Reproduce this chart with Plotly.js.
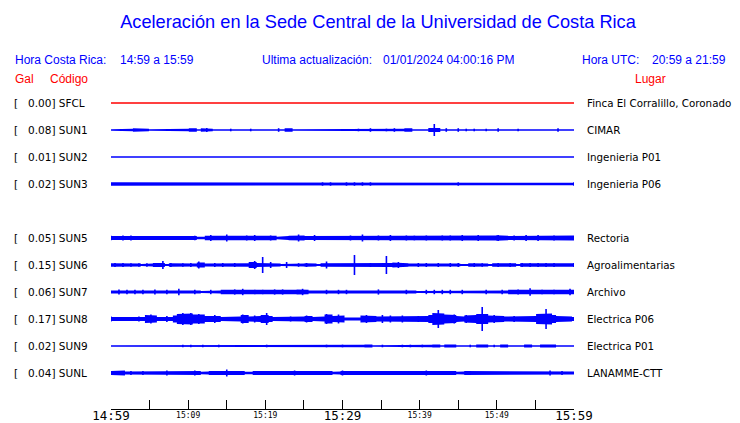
<!DOCTYPE html>
<html><head><meta charset="utf-8">
<script src="https://cdn.plot.ly/plotly-3.0.1.min.js"></script>
<style>html,body{margin:0;padding:0;background:#fff}#chart{width:740px;height:423px}</style>
</head><body><div id="chart"></div>
<script>
// ---------------- DATA ----------------
const titleText = 'Aceleración en la Sede Central de la Universidad de Costa Rica';
const localTimeLabel = 'Hora Costa Rica:';
const localTimeRange = '14:59 a 15:59';
const updateLabel = 'Ultima actualización:';
const updateValue = '01/01/2024 04:00:16 PM';
const utcLabel = 'Hora UTC:';
const utcRange = '20:59 a 21:59';

const codes  = ['SFCL','SUN1','SUN2','SUN3','SUN5','SUN6','SUN7','SUN8','SUN9','SUNL'];
const galPeak = [0.00, 0.08, 0.01, 0.02, 0.05, 0.15, 0.06, 0.17, 0.02, 0.04];
const places = ['Finca El Corralillo, Coronado','CIMAR','Ingenieria P01','Ingenieria P06','Rectoria',
                'Agroalimentarias','Archivo','Electrica P06','Electrica P01','LANAMME-CTT'];

const tickMinutes = [0,5,10,15,20,25,30,35,40,45,50,55,60];
const majorTickMinutes = [0,30,60];
const majorTickText = ['14:59','15:29','15:59'];
const minorTickMinutes = [10,20,40,50];
const minorTickText = ['15:09','15:19','15:39','15:49'];

// envelope half-heights (px), evenly spaced over the hour
const env_SFCL = [0.75,0.75];
const env_SUN1 = [0.7,1.3,1.3,1.0,0.7,1.3,1.8,1.8,1.3,1.3,
 0.7,1.3,1.3,0.7,0.7,0.7,1.3,1.3,1.0,1.3,
 1.8,1.8,0.7,1.8,2.0,1.3,0.7,1.3,1.3,1.0,
 1.3,0.7,1.3,1.3,1.0,1.3,0.7,1.3,1.3,1.0,
 0.7,0.7,1.8,0.7,1.8,1.8,0.7,1.0,1.3,1.3,
 1.0,1.3,1.3,0.7,1.3,1.3,0.7,0.7,1.3,1.3,
 1.3,0.7,1.3,0.7,1.3,1.8,1.3,0.7,0.7,1.3,
 0.7,1.8,0.7,1.3,1.8,1.8,0.7,1.3,1.3,0.7,
 2.0,6.0,2.0,0.7,1.8,0.7,1.3,1.8,0.7,1.3,
 0.7,1.3,0.7,0.7,1.3,0.7,1.3,1.8,0.7,0.7,
 0.7,0.7,1.3,0.7,0.7,1.3,1.3,1.3,1.3,1.3,
 0.7,0.7,1.8,1.3,1.3,0.7,0.7];
const env_SUN2 = [0.75,0.75];
const env_SUN3 = [1.7,1.7,1.7,1.7,1.7,1.2,1.7,1.7,1.7,1.7,
 1.7,1.7,1.7,1.7,1.7,1.7,1.7,1.7,1.7,1.7,
 1.7,1.7,1.7,1.7,1.7,1.7,1.7,1.7,1.7,1.7,
 1.7,1.7,1.7,1.7,1.7,1.7,1.7,1.7,1.7,1.7,
 1.7,1.7,1.7,1.7,1.7,1.7,1.7,1.2,1.7,1.7,
 1.7,1.2,1.2,1.7,1.2,1.7,1.2,1.2,1.2,1.7,
 1.2,1.7,1.2,1.7,1.2,1.7,1.2,1.7,1.7,1.7,
 1.2,1.7,1.7,1.7,1.7,1.2,1.7,1.7,1.7,1.7,
 1.7,1.7,1.7,1.7,1.7,1.7,1.2,1.7,1.2,1.7,
 1.7,1.7,1.2,1.7,1.7,1.7,1.2,1.7,1.7,1.7,
 1.7,1.2,1.7,1.7,1.7,1.7,1.7,1.7,1.7,1.2,
 1.7,1.7,1.2,1.7,1.7,1.2,1.7];
const env_SUN5 = [2.3,2.0,2.0,2.5,2.3,2.5,1.8,2.5,2.5,2.3,
 2.5,2.5,2.3,1.8,2.0,2.5,2.5,2.3,2.5,2.5,
 2.0,2.3,1.3,1.3,2.3,3.0,2.0,2.5,2.5,3.5,
 2.5,2.5,2.3,2.3,2.5,2.0,3.0,2.5,2.0,2.3,
 2.5,2.3,1.3,1.3,2.0,2.3,3.0,3.5,2.5,2.0,
 2.3,3.0,2.5,2.3,2.0,2.3,2.5,2.5,2.3,2.0,
 2.5,2.3,2.5,3.5,2.3,2.0,2.3,2.5,2.0,2.5,
 3.0,2.5,2.0,2.3,2.5,2.0,2.3,2.0,2.3,2.5,
 2.3,2.0,2.3,2.5,2.3,2.5,2.3,2.5,3.0,2.5,
 2.3,2.5,3.0,2.5,2.3,2.0,2.5,3.0,2.8,2.3,
 2.0,2.5,2.3,2.5,3.0,2.3,2.5,3.0,2.3,2.0,
 2.3,2.5,2.3,2.0,2.5,2.5,2.5];
const env_SUN6 = [1.8,2.0,1.5,2.0,1.5,1.8,1.5,1.8,1.0,1.8,
 1.5,2.0,2.0,4.0,1.0,2.0,1.8,1.5,1.8,1.5,
 2.0,1.5,3.5,2.5,1.5,1.5,2.0,1.8,2.0,1.5,
 1.8,2.0,1.5,1.5,1.8,3.0,4.0,2.0,8.0,2.0,
 3.0,2.0,1.5,1.0,3.0,1.0,1.5,1.8,1.5,2.0,
 1.8,1.5,1.0,1.8,3.5,2.0,1.8,2.0,2.0,1.8,
 1.8,10.0,2.0,1.8,1.5,2.0,1.5,1.8,1.8,9.0,
 2.0,2.5,3.0,2.0,1.8,1.5,1.8,2.0,1.8,2.0,
 1.5,1.8,2.0,1.5,1.8,2.0,1.5,2.0,1.0,1.0,
 1.8,2.0,1.5,1.8,1.5,1.0,1.8,2.0,1.8,1.5,
 2.0,1.8,1.0,2.0,1.8,2.0,1.5,2.0,1.8,2.0,
 1.8,2.0,1.8,2.0,2.0,1.8,2.0];
const env_SUN7 = [1.6,2.2,2.6,1.6,2.2,1.6,2.2,1.6,2.2,1.6,
 2.2,2.6,1.6,1.6,2.2,1.6,1.6,3.2,1.6,1.6,
 1.6,2.2,1.6,0.9,1.6,2.2,1.6,1.6,2.2,2.2,
 2.2,2.6,1.6,3.2,1.6,1.6,2.2,1.6,2.2,1.6,
 2.2,2.6,2.2,2.6,1.6,1.6,2.2,2.6,3.2,2.2,
 1.6,1.6,1.6,1.6,2.2,1.6,1.6,2.2,1.6,2.2,
 1.6,1.6,1.6,1.6,1.6,1.6,2.2,2.6,1.6,1.6,
 1.6,2.2,2.2,1.6,2.2,1.6,1.6,0.9,0.9,2.2,
 1.6,2.2,1.6,2.2,1.6,2.2,1.6,1.6,2.2,1.6,
 1.3,1.6,1.6,1.6,2.2,1.6,1.6,1.6,2.2,1.6,
 2.2,2.2,2.6,1.6,1.6,3.8,1.6,1.6,2.2,1.6,
 1.6,2.2,1.6,1.6,2.2,3.2,2.2];
const env_SUN8 = [2.5,2.0,1.8,2.0,2.0,1.8,2.0,2.5,2.0,4.0,
 4.5,3.5,2.0,2.5,3.0,2.0,3.5,5.0,6.0,5.5,
 6.0,4.5,5.0,4.5,3.0,3.0,4.0,3.0,2.0,2.5,
 2.5,2.0,2.5,4.5,4.0,2.5,3.5,3.0,4.0,6.0,
 3.0,2.0,2.0,2.0,2.0,2.5,2.0,2.0,2.5,3.5,
 3.0,2.0,2.0,2.5,5.0,4.5,3.0,4.5,3.5,1.5,
 1.5,1.5,1.5,3.5,4.0,3.5,3.0,2.5,4.0,3.0,
 3.5,3.0,2.5,3.5,3.0,2.5,2.5,3.0,2.5,3.0,
 4.0,6.0,9.0,5.5,4.5,4.0,4.5,3.0,2.5,4.0,
 3.5,4.0,5.0,12.0,5.0,3.5,4.0,3.5,3.0,2.5,
 2.5,3.0,2.5,2.5,2.5,2.5,3.0,5.0,5.5,10.0,
 5.5,4.0,3.0,2.5,2.5,2.5,2.0];
const env_SUN9 = [0.7,0.7,0.7,0.7,0.7,0.7,0.7,0.7,0.7,0.7,
 1.3,1.3,0.7,0.7,0.7,0.7,0.7,0.7,1.3,0.7,
 1.3,0.7,0.7,1.3,0.7,0.7,0.7,1.3,0.7,0.7,
 0.7,0.7,0.7,0.7,0.7,0.7,1.3,1.3,0.7,1.3,
 0.7,0.7,0.7,0.7,0.7,0.7,0.7,0.7,0.7,0.7,
 0.7,0.7,0.7,0.7,1.3,0.7,0.7,0.7,1.3,0.7,
 0.7,0.7,0.7,1.3,1.5,1.5,0.7,0.7,1.3,0.7,
 0.7,0.7,0.7,1.3,0.7,1.3,0.7,0.7,1.3,0.7,
 1.3,1.5,1.5,0.7,1.5,1.5,1.5,0.7,0.7,0.7,
 1.3,0.7,1.5,1.5,1.5,0.7,1.3,0.7,1.5,1.5,
 0.7,0.7,0.7,0.7,1.5,1.5,0.7,0.7,1.5,1.5,
 1.5,1.5,0.7,0.7,0.7,0.7,0.7];
const env_SUNL = [2.0,2.0,2.5,2.5,1.5,2.0,1.5,1.5,2.0,1.5,
 2.0,2.0,2.0,2.0,2.5,1.5,2.0,2.0,1.5,2.0,
 2.0,2.5,2.0,1.2,1.5,2.0,2.0,1.5,2.0,3.5,
 2.0,1.5,2.0,2.0,1.2,1.2,2.0,2.0,2.0,2.0,
 2.0,2.0,1.5,2.0,2.0,1.5,2.5,2.0,2.0,2.0,
 1.5,2.0,2.0,1.5,2.0,2.0,1.2,1.5,2.5,2.0,
 1.5,2.0,2.0,1.5,2.0,1.5,2.0,2.0,1.5,2.0,
 2.0,1.5,2.0,2.0,1.5,2.0,2.0,2.0,1.5,2.5,
 2.0,1.5,2.0,2.0,1.5,2.0,2.0,1.2,1.5,2.0,
 2.0,1.5,2.0,2.0,2.0,1.5,2.0,2.0,1.5,2.0,
 2.0,1.5,2.0,2.0,1.5,2.0,2.0,1.5,2.0,2.0,
 2.5,2.0,1.5,2.0,1.5,1.5,1.5];

// ---------------- DRAWING ----------------
const envelopes = [env_SFCL,env_SUN1,env_SUN2,env_SUN3,env_SUN5,env_SUN6,env_SUN7,env_SUN8,env_SUN9,env_SUNL];
const ROW_SLOTS = [0,1,2,3,5,6,7,8,9,10];   // slot 4 (SUN4) is empty
const W = 740, H = 423;
const M = {l:111, r:166, t:90, b:14};
const PW = W - M.l - M.r, PH = H - M.t - M.b;
const rowY = s => 13 + 27 * s;   // y data units == pixels below plot top

const BLUE = '#0000ff', RED = '#ff0000';
const traces = [];
envelopes.forEach((env, k) => {
  const n = env.length;
  const step = 60 / (n - 1);
  const y0 = rowY(ROW_SLOTS[k]);
  const col = k === 0 ? RED : BLUE;
  // block envelope: each sample is a flat step centred on its time;
  // isolated peaks are held to their neighbours' level and drawn as needles instead
  const bx = [], bu = [], bl = [];
  const nx = [], ny = [];
  env.forEach((a, i) => {
    const nb = Math.max(i > 0 ? env[i - 1] : 0, i < n - 1 ? env[i + 1] : 0);
    const f = n > 2 ? Math.min(a, nb) : a;
    const xc = i * step;
    bx.push(xc - step / 2, xc + step / 2);
    bu.push(y0 - f, y0 - f);
    bl.push(y0 + f, y0 + f);
    if (a > f) { nx.push(xc, xc, null); ny.push(y0 - a, y0 + a, null); }
  });
  traces.push({x: bx, y: bu, type: 'scatter', mode: 'lines',
    line: {width: 0, color: col}, hoverinfo: 'skip', showlegend: false});
  traces.push({x: bx, y: bl, type: 'scatter', mode: 'lines',
    line: {width: 0, color: col}, fill: 'tonexty', fillcolor: col,
    hoverinfo: 'skip', showlegend: false});
  if (nx.length) traces.push({x: nx, y: ny, type: 'scatter', mode: 'lines',
    line: {width: 1.6, color: col}, hoverinfo: 'skip', showlegend: false, connectgaps: false});
});
// carrier for the minor-label axis
traces.push({x: [0, 60], y: [-50, -50], xaxis: 'x2', type: 'scatter', mode: 'lines',
  line: {width: 0}, hoverinfo: 'skip', showlegend: false});

const px2x = px => (px - M.l) / PW;
const py2y = py => (H - M.b - py) / PH;
const SANS = 'Liberation Sans, Arial, sans-serif';
const DV = 'DejaVu Sans, sans-serif';
function ann(px, py, text, color, size, family, anchor) {
  return {xref: 'paper', yref: 'paper', x: px2x(px), y: py2y(py), text,
    showarrow: false, xanchor: anchor || 'left', yanchor: 'middle',
    font: {family, size, color}, borderpad: 0, borderwidth: 0};
}
const annotations = [
  ann(15, 60, localTimeLabel, BLUE, 12, SANS),
  ann(120, 60, localTimeRange, BLUE, 12, SANS),
  ann(262, 60, updateLabel, BLUE, 12, SANS),
  ann(383, 60, updateValue, BLUE, 12, SANS),
  ann(582, 60, utcLabel, BLUE, 12, SANS),
  ann(652, 60, utcRange, BLUE, 12, SANS),
  ann(15, 79, 'Gal', RED, 12, SANS),
  ann(50, 79, 'Código', RED, 12, SANS),
  ann(666, 79, 'Lugar', RED, 12, SANS, 'right'),
];
codes.forEach((c, k) => {
  const py = M.t + rowY(ROW_SLOTS[k]);
  annotations.push(ann(14, py, '[', '#000', 10.5, DV));
  annotations.push(ann(28, py, galPeak[k].toFixed(2) + '] ' + c, '#000', 10.5, DV));
  annotations.push(ann(587, py, places[k], '#000', 10.3, DV));
});

const layout = {
  width: W, height: H, margin: M,
  paper_bgcolor: '#fff', plot_bgcolor: '#fff', showlegend: false,
  title: {text: titleText, font: {family: SANS, size: 18.2, color: BLUE},
    xref: 'container', x: 378 / W, xanchor: 'center', yref: 'container', y: 1 - 22 / H, yanchor: 'middle'},
  xaxis: {range: [0, 60], tickmode: 'array', tickvals: tickMinutes,
    ticktext: tickMinutes.map(m => { const j = majorTickMinutes.indexOf(m); return j >= 0 ? majorTickText[j] : ''; }),
    ticks: 'inside', ticklen: 9, tickwidth: 1, tickcolor: '#000',
    showline: true, linecolor: '#000', linewidth: 1, mirror: false,
    showgrid: false, zeroline: false, fixedrange: true, ticklabelstandoff: -5,
    tickfont: {family: 'DejaVu Sans Mono, monospace', size: 12.5, color: '#000'}},
  xaxis2: {range: [0, 60], overlaying: 'x', anchor: 'y', side: 'bottom', tickmode: 'array',
    tickvals: minorTickMinutes, ticktext: minorTickText, ticks: '', showline: false,
    showgrid: false, zeroline: false, fixedrange: true, ticklabelstandoff: 0,
    tickfont: {family: 'DejaVu Sans Mono, monospace', size: 8, color: '#000'}},
  yaxis: {range: [PH, 0], visible: false, fixedrange: true, showgrid: false, zeroline: false},
  annotations
};
Plotly.newPlot('chart', traces, layout, {staticPlot: true, displayModeBar: false});
</script></body></html>
